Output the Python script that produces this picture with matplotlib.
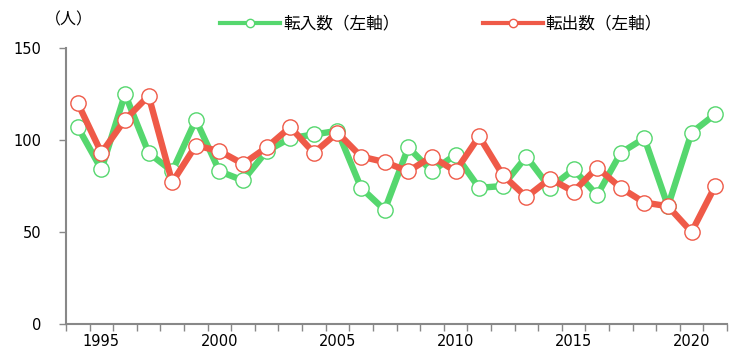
import numpy as np
import matplotlib
matplotlib.use('Agg')
import matplotlib.pyplot as plt
from matplotlib.lines import Line2D

plt.rcParams['font.family'] = ['DejaVu Sans', 'Noto Sans CJK JP']

years = list(range(1994, 2022))
tennyu = [107, 84, 125, 93, 83, 111, 83, 78, 94, 101, 103, 105, 74, 62, 96, 83,
          92, 74, 75, 91, 74, 84, 70, 93, 101, 64, 104, 114]
tenshutsu = [120, 93, 111, 124, 77, 97, 94, 87, 96, 107, 93, 104, 91, 88, 83, 91,
             83, 102, 81, 69, 79, 72, 85, 74, 66, 64, 50, 75]
labels = ['転入数（左軸）', '転出数（左軸）']
green = '#55d76e'
red = '#ef5a48'

fig = plt.figure(figsize=(7.35, 3.54), dpi=100)
ax = fig.add_axes([66 / 735, 30 / 354, 661 / 735, 276 / 354])

x = np.arange(len(years))
ax.plot(x, tennyu, color=green, lw=4.6, marker='o', ms=11,
        mfc='white', mec=green, mew=1.0, zorder=3)
ax.plot(x, tenshutsu, color=red, lw=4.6, marker='o', ms=11,
        mfc='white', mec=red, mew=1.0, zorder=4)

ax.set_xlim(-0.5, len(years) - 0.5)
ax.set_ylim(0, 150)
ax.set_yticks([0, 50, 100, 150])
# category axis: ticks between years, labels every 5 years
ax.set_xticks(np.arange(-0.5, len(years), 1.0))
ax.set_xticklabels([])
ax.set_xticks([i for i, y in enumerate(years) if y % 5 == 0], minor=True)
ax.set_xticklabels([str(y) for y in years if y % 5 == 0], minor=True)
ax.tick_params(axis='x', which='major', length=5, color='#888888', width=1)
ax.tick_params(axis='x', which='minor', length=0, pad=7, labelsize=10.5)
ax.tick_params(axis='y', length=5, color='#888888', width=1, pad=13, labelsize=10.5)

for s in ['top', 'right']:
    ax.spines[s].set_visible(False)
for s in ['left', 'bottom']:
    ax.spines[s].set_color('#888888')
    ax.spines[s].set_linewidth(1.5)

fig.text(45 / 735, 1 - 20 / 354, '（人）', family=['Noto Sans CJK JP'],
         fontsize=11.5, va='center', ha='left')

handles = [Line2D([], [], color=green, lw=3, marker='o', ms=6, mfc='white', mec=green),
           Line2D([], [], color=red, lw=3, marker='o', ms=6, mfc='white', mec=red)]
leg = fig.legend(handles, labels, loc='center', bbox_to_anchor=(0.6, 1 - 24 / 354),
                 ncol=2, frameon=False, handlelength=3.6, handletextpad=0.15,
                 columnspacing=5.0, prop={'family': 'Noto Sans CJK JP', 'size': 12})

fig.savefig('out.png', dpi=100)
